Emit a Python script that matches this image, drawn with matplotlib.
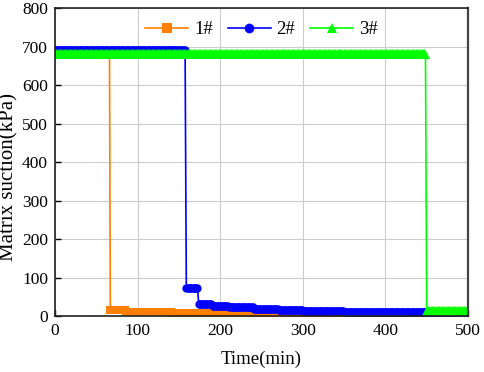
import numpy as np
import matplotlib
matplotlib.use("Agg")
import matplotlib.pyplot as plt

plt.rcParams['font.family'] = ['Liberation Serif', 'DejaVu Serif']

# Plateaus: (start min, end min, suction kPa)
seg_1 = [(0, 66, 678), (67, 85, 15), (86, 140, 10), (141, 220, 8), (221, 500, 6)]
seg_2 = [(0, 158, 692), (159, 173, 73), (174, 190, 32), (191, 210, 27),
         (211, 240, 23), (241, 270, 19), (271, 300, 15), (301, 350, 12),
         (351, 500, 10)]
seg_3 = [(0, 449, 681), (450, 500, 12)]

labels = ["1#", "2#", "3#"]
colors = ["#FF8000", "#0000FF", "#00FF00"]
markers = ["s", "o", "^"]

x_ticks = [0, 100, 200, 300, 400, 500]
y_ticks = [0, 100, 200, 300, 400, 500, 600, 700, 800]


def expand(segs, step=1.5):
    t, v = [], []
    for a, b, val in segs:
        tt = np.arange(a, b + 0.01, step)
        t.extend(tt)
        v.extend([val] * len(tt))
    return np.array(t), np.array(v)


fig = plt.figure(figsize=(4.84, 3.72), dpi=100)
ax = fig.add_axes([0.1136, 0.1505, 0.8534, 0.828])

for segs, lab, c, m, ms in zip([seg_1, seg_2, seg_3], labels, colors, markers, [5.5, 6, 7.5]):
    t, v = expand(segs)
    ax.plot(t, v, color=c, marker=m, markersize=ms, markeredgewidth=0,
            linewidth=1.2, label=lab)

ax.set_xlim(0, 500)
ax.set_ylim(0, 800)
ax.set_xticks(x_ticks)
ax.set_yticks(y_ticks)
ax.grid(True, color="#cccccc", linewidth=0.8)
ax.set_axisbelow(True)
ax.tick_params(direction="in", labelsize=12.5, length=4, width=1, pad=5)
for s in ax.spines.values():
    s.set_linewidth(1.2)
    s.set_color("#222222")
ax.spines["right"].set_linewidth(1.6)
ax.spines["right"].set_color("#444444")
ax.set_xlabel("Time(min)", fontsize=13.5)
ax.set_ylabel("Matrix suction(kPa)", fontsize=15)
ax.xaxis.set_label_coords(0.5, -0.113)
ax.yaxis.set_label_coords(-0.088, 0.45)

leg = ax.legend(loc="center", ncol=3, frameon=False, fontsize=13.5,
                handlelength=2.3, columnspacing=0.8, handletextpad=0.3,
                bbox_to_anchor=(0.5, 0.929))
for h in leg.legend_handles:
    h.set_markersize(7)

fig.savefig("out.png", dpi=100)
